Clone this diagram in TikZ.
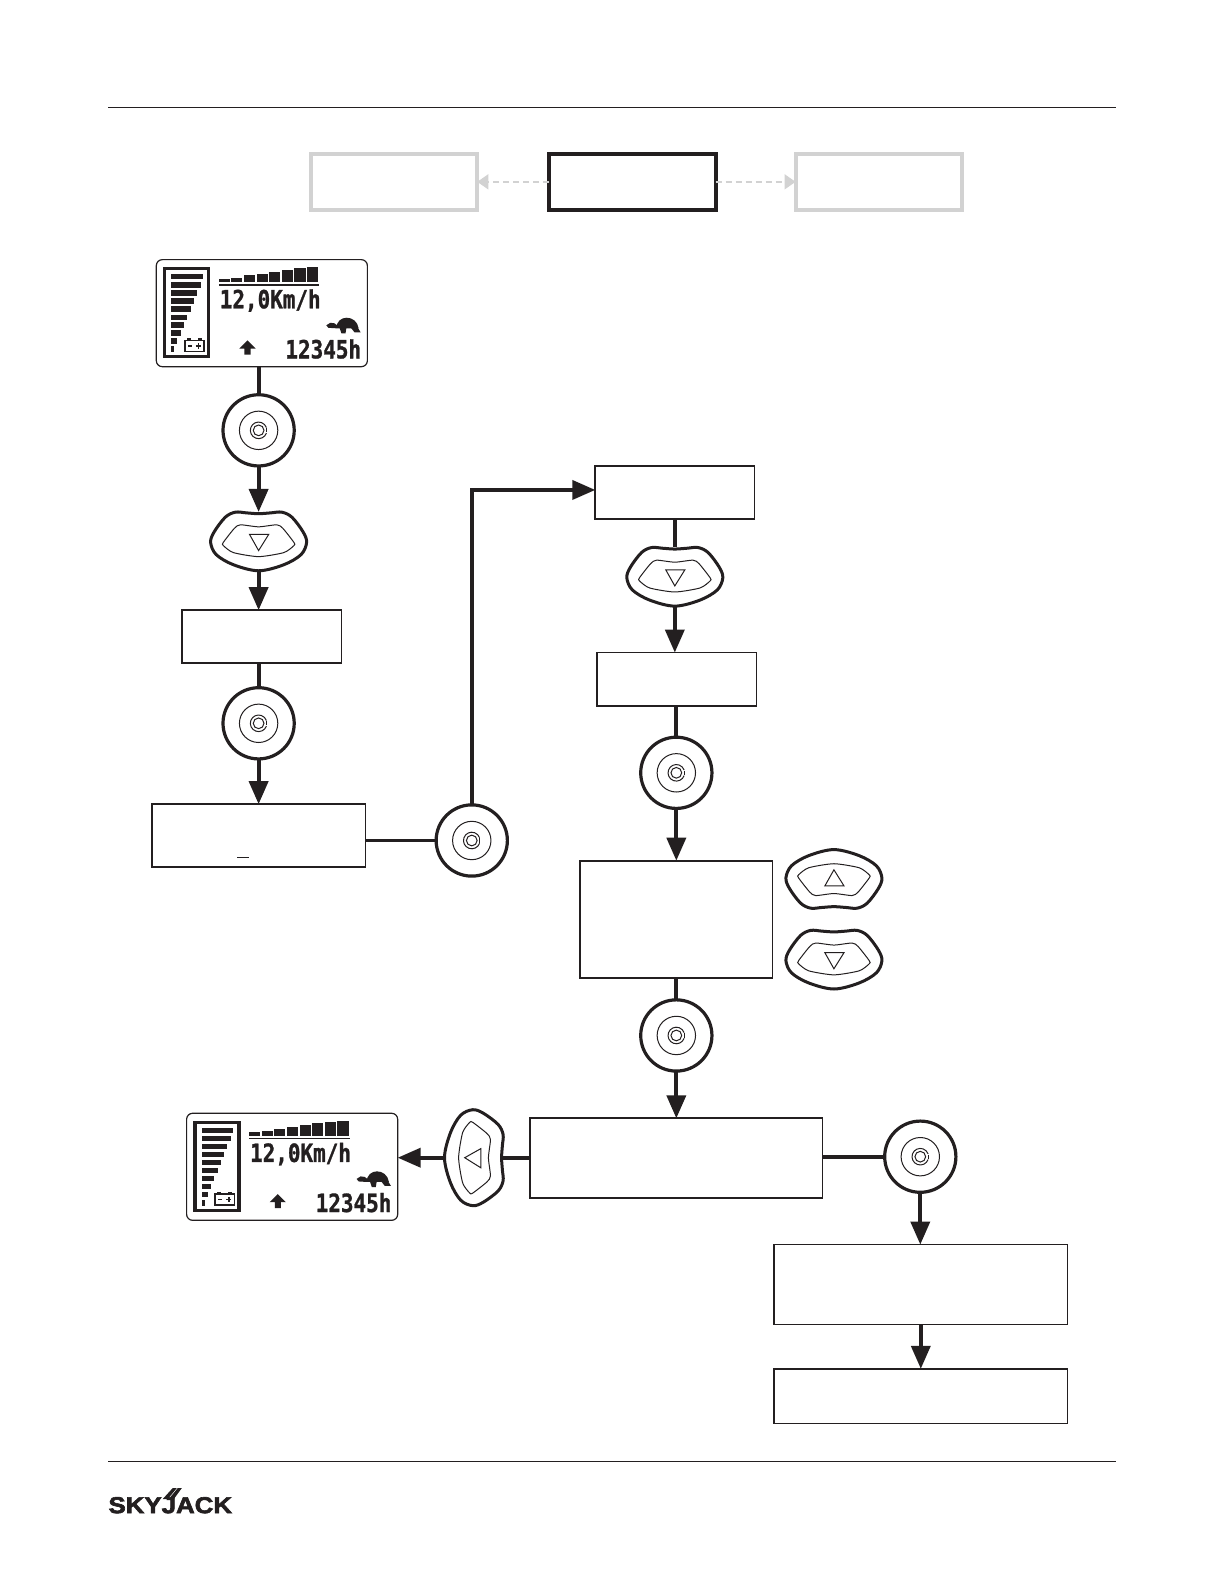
\documentclass[tikz,border=0pt]{standalone}
\usepackage{fontspec}
\usepackage{graphicx}
\usetikzlibrary{arrows.meta,shapes.geometric}
\newfontfamily\lcdfont{DejaVu Sans Mono Bold}[FakeBold=1.2]
\newfontfamily\logofont{Liberation Sans Bold}[FakeBold=2.5]
\definecolor{ink}{HTML}{231F20}
\definecolor{pale}{HTML}{D2D2D2}
\tikzset{
  flowbox/.style={draw=ink,fill=white,line width=0.85bp,rectangle,inner sep=0pt,outer sep=0pt},
  headbox/.style={draw=pale,fill=white,line width=2bp,rectangle,inner sep=0pt,outer sep=0pt,minimum width=83.3bp,minimum height=27.7bp},
  headcur/.style={headbox,draw=ink},
  headlink/.style={draw=pale,line width=0.7bp,dash pattern=on 3bp off 2bp,-{Triangle[length=5.5bp,width=7.5bp]}},
  lcdbox/.style={draw=ink,fill=white,line width=0.6bp,rectangle,rounded corners=3bp,inner sep=0pt,outer sep=0pt,minimum width=105.5bp,minimum height=53.5bp},
  dial/.style={draw=ink,fill=white,line width=1.6bp,circle,inner sep=0pt,outer sep=0pt,minimum size=35.6bp},
  lobe/.style={ellipse,inner sep=0pt,outer sep=0pt,minimum width=48.5bp,minimum height=29.5bp},
  lobev/.style={ellipse,inner sep=0pt,outer sep=0pt,minimum width=29.5bp,minimum height=48.5bp},
  plain/.style={draw=ink,line width=1.9bp},
  flow/.style={plain,-{Triangle[length=11.5bp,width=9.5bp]}},
  thin line/.style={draw=ink,line width=0.5bp},
  rule/.style={draw=ink,line width=0.6bp},
}
% dial button: name, position
\newcommand{\dialbtn}[2]{%
  \node[dial] (#1) at (#2) {};
  \begin{scope}[shift={(#2)}]
    \draw[thin line] (0,0) circle (19);
    \draw[thin line] (0,0) circle (5.3);
    \draw[thin line] (20:8.2) arc (20:340:8.2);
    \draw[thin line] (-15:8.2) arc (-15:15:8.2);
  \end{scope}}
% lobe outline, drawn with transformation given in #1
\newcommand{\lobeshape}[2]{%
  \begin{scope}[shift={(#2)},#1]
    \draw[draw=ink,fill=white,line width=1.5bp,line join=round] plot[smooth cycle,tension=0.55] coordinates {
      (0,-27.5) (12,-28.3) (23,-29) (33,-24) (44,-9.5) (47.5,1) (42,13) (25,23) (0,29) (-25,23) (-42,13) (-47.5,1) (-44,-9.5) (-33,-24) (-23,-29) (-12,-28.3)};
    \draw[thin line] plot[smooth cycle,tension=0.4] coordinates {
      (0,-14.5) (18,-16.5) (24,-13) (35,1) (35,4) (25,11) (0,15) (-25,11) (-35,4) (-35,1) (-24,-13) (-18,-16.5)};
    \draw[thin line,line join=miter] (-9,-7) -- (10,-7) -- (0,9) -- cycle;
  \end{scope}}
% LCD screen contents: prefix, top-left corner
\newcommand{\lcdscreen}[2]{%
  \begin{scope}[shift={(#2)}]
    \draw[draw=ink,line width=1.7bp] (8,9) rectangle (51.5,96);
    \foreach \yy/\xx in {17/46,25/43.5,33/40,41/36.8,49/34,57/30.5,64.7/27,72.6/24}
      \fill[ink] (14.5,\yy-2.6) rectangle (\xx,\yy+2.6);
    \fill[ink] (14.5,77.5) rectangle (20.5,83.2);
    \fill[ink] (14.5,85.5) rectangle (17.5,91.5);
    % battery
    \draw[draw=ink,line width=0.7bp] (28,80) rectangle (47,91);
    \fill[ink] (30,78) rectangle (34,80);
    \fill[ink] (41,78) rectangle (45,80);
    \draw[draw=ink,line width=0.7bp] (31,85.5) -- (35,85.5) (39,85.5) -- (44,85.5) (41.5,83) -- (41.5,88);
    % signal bars
    \foreach \xx/\tt in {61.5/19,74/18,86.5/15.5,99/14,111.5/12,124/10,136.5/8.5,149/7.5}
      \fill[ink] (\xx,\tt) rectangle (\xx+11,22.6);
    \fill[ink] (61.5,24.4) rectangle (161,25.8);
    \node[text=ink,inner sep=0pt] (#1speed) at (112.5,40.5) {\scalebox{1.02}[1.22]{\lcdfont\fontsize{10.3}{11}\selectfont 12,0Km/h}};
    \node[text=ink,inner sep=0pt] (#1hours) at (165,88.5) {\scalebox{1.02}[1.22]{\lcdfont\fontsize{10.3}{11}\selectfont 12345h}};
    % turtle
    \fill[ink] (178,68) .. controls (178,54) and (198,54) .. (200,68) -- cycle;
    \fill[ink] (168,65) -- (172,62.5) -- (176,63) -- (180,66) -- (178,68) -- (170,67.5) -- cycle;
    \fill[ink] (181,67) -- (188,67) -- (187,73) -- (183,73) -- cycle;
    \fill[ink] (192,67) -- (199,67) -- (202,72) -- (196,72) -- cycle;
    % up arrow
    \fill[ink] (90,80) -- (98,88) -- (93,88) -- (93,94) -- (87,94) -- (87,88) -- (82,88) -- cycle;
  \end{scope}}
\begin{document}
\begin{tikzpicture}[x=0.50495bp,y=-0.50495bp]
\useasboundingbox (0,0) rectangle (1212,1568);
\fill[white] (0,0) rectangle (1212,1568);
% rules
\coordinate (ruleAl) at (107,106.5);
\coordinate (ruleAr) at (1105,106.5);
\coordinate (ruleBl) at (107,1446.5);
\coordinate (ruleBr) at (1105,1446.5);
\draw[rule] (ruleAl) -- (ruleAr);
\draw[rule] (ruleBl) -- (ruleBr);
% header
\node[headbox] (hl) at (390,180) {};
\node[headcur] (hc) at (626,180) {};
\node[headbox] (hr) at (870,180) {};
\draw[headlink] (hc) -- (hl);
\draw[headlink] (hc) -- (hr);
% screens
\node[lcdbox] (lcdA) at (259.2,310) {};
\lcdscreen{a}{155,257}
\node[lcdbox] (lcdB) at (289.2,1155) {};
\lcdscreen{b}{185,1102}
% boxes
\node[flowbox,minimum width=79.8bp,minimum height=26.3bp] (b1) at (259,630) {};
\node[flowbox,minimum width=106.8bp,minimum height=31.3bp] (b2) at (256,827) {};
\coordinate (usl) at (235,849);
\coordinate (usr) at (246,849);
\draw[thin line] (usl) -- (usr);
\node[flowbox,minimum width=79.5bp,minimum height=26.8bp] (b3) at (668,487.5) {};
\node[flowbox,minimum width=79.5bp,minimum height=26.8bp] (b4) at (670,672.5) {};
\node[flowbox,minimum width=96.2bp,minimum height=58.6bp] (b5) at (669.5,910) {};
\node[flowbox,minimum width=146bp,minimum height=39.9bp] (b6) at (669.5,1146.5) {};
\node[flowbox,minimum width=146.7bp,minimum height=39.9bp] (b7) at (911.5,1271.5) {};
\node[flowbox,minimum width=146.7bp,minimum height=27.3bp] (b8) at (911.5,1382) {};
% dial buttons
\dialbtn{d1}{256,426}
\dialbtn{d2}{256,716}
\dialbtn{d3}{467,832}
\dialbtn{d4}{669.5,765}
\dialbtn{d5}{669.5,1025}
\dialbtn{d6}{911,1145}
% lobe buttons
\node[lobe] (l1) at (256,536) {};
\lobeshape{}{256,536}
\node[lobe] (l2) at (668,571) {};
\lobeshape{}{668,571}
\node[lobe] (l3) at (825.5,870) {};
\lobeshape{yscale=-1}{825.5,870}
\node[lobe] (l4) at (825.5,950) {};
\lobeshape{}{825.5,950}
\node[lobev] (l5) at (469,1146) {};
\lobeshape{rotate=-90}{469,1146}
% connectors
\draw[plain] (lcdA.south -| d1) -- (d1.north);
\draw[flow] (d1.south) -- (l1.north);
\draw[flow] (l1.south) -- (l1.south |- b1.north);
\draw[plain] (b1.south -| d2) -- (d2.north);
\draw[flow] (d2.south) -- (d2.south |- b2.north);
\draw[plain] (b2.east |- d3) -- (d3.west);
\coordinate (turn) at (467,485);
\draw[flow] (d3.north) -- (turn) -- (turn -| b3.west);
\draw[plain] (b3.south -| l2) -- (l2.north);
\draw[flow] (l2.south) -- (l2.south |- b4.north);
\draw[plain] (b4.south -| d4) -- (d4.north);
\draw[flow] (d4.south) -- (d4.south |- b5.north);
\draw[plain] (b5.south -| d5) -- (d5.north);
\draw[flow] (d5.south) -- (d5.south |- b6.north);
\draw[plain] (b6.west |- l5) -- (l5.east);
\draw[flow] (l5.west) -- (l5.west -| lcdB.east);
\draw[plain] (b6.east |- d6) -- (d6.west);
\draw[flow] (d6.south) -- (d6.south |- b7.north);
\draw[flow] (b7.south) -- (b8.north);
% logo
\node[text=ink,inner sep=0pt,anchor=west] (logo) at (107,1490) {\scalebox{1.18}[1.05]{\logofont\fontsize{11}{11}\selectfont SKYJACK}};
\fill[ink] (161,1484) -- (171,1473) -- (175,1473) -- (166,1484) -- cycle;
\fill[ink] (167,1484) -- (176,1473) -- (180,1473) -- (172,1484) -- cycle;
\end{tikzpicture}
\end{document}
